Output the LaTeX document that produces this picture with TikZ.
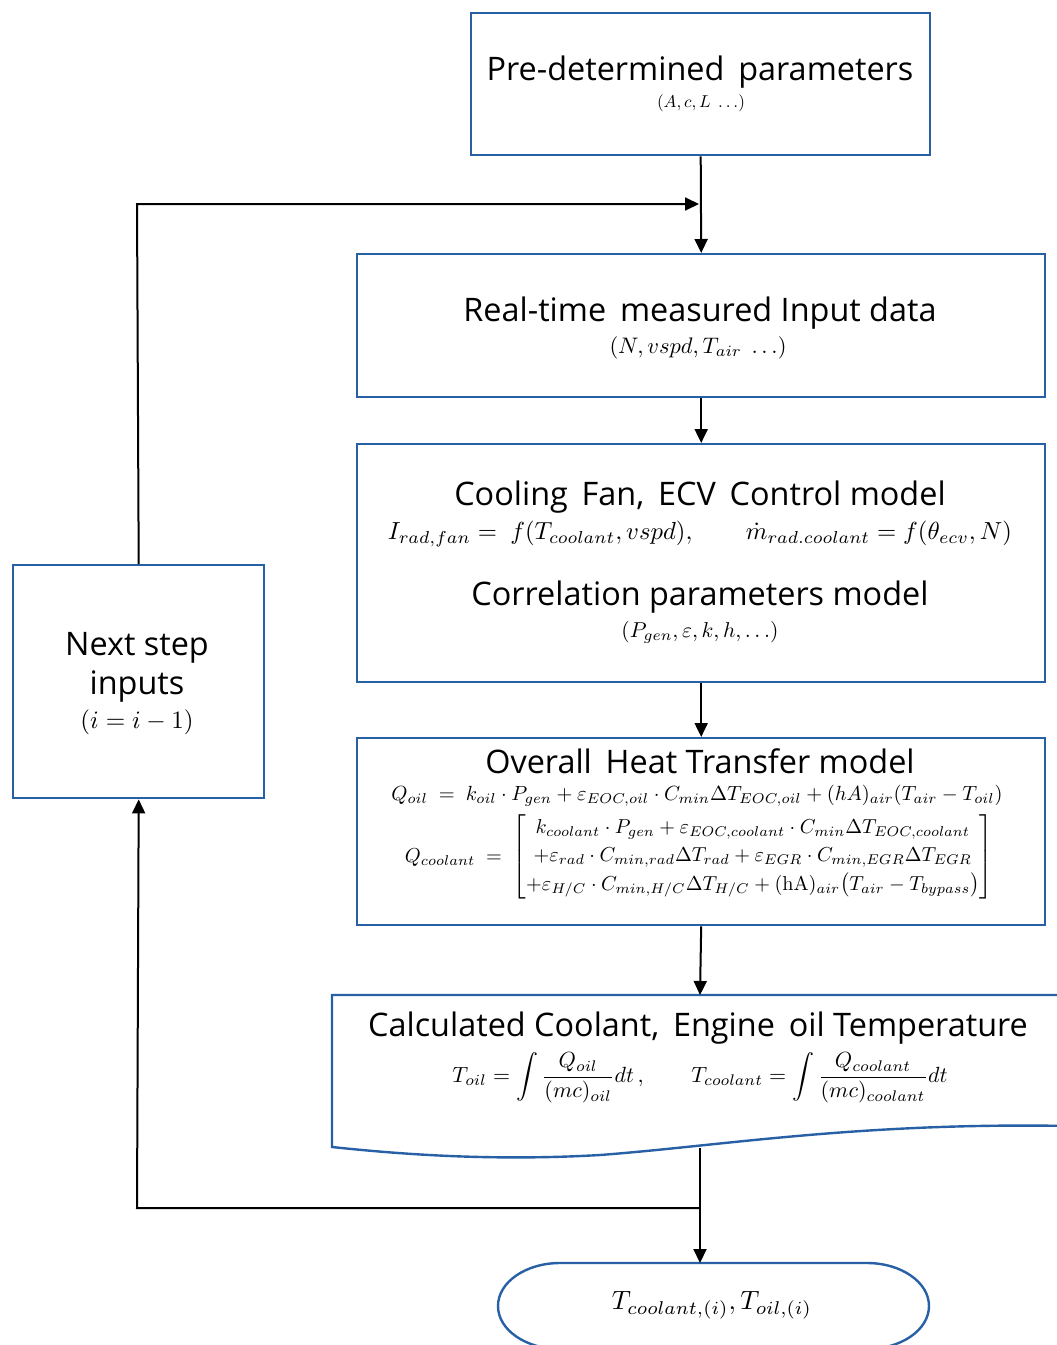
\RequirePackage{fix-cm}
\documentclass[tikz,border=0pt]{standalone}
\usepackage{amsmath}
\usepackage{graphicx}
\usepackage[no-math]{fontspec}
\setmainfont{Open Sans}
\usetikzlibrary{arrows.meta}
\definecolor{bbl}{RGB}{40,96,166}
\tikzset{
  box/.style={draw=bbl, line width=2.4pt, fill=white, inner sep=0pt, anchor=north west},
  conn/.style={line width=2pt, -{Triangle[length=14pt,width=13pt]}},
  ttl/.style={font=\fontsize{32.4}{38}\selectfont, inner sep=0pt},
  mth/.style={inner sep=0pt},
}
\newcommand{\mw}[2]{\resizebox{#1pt}{!}{$#2$}}
\begin{document}
\begin{tikzpicture}[x=1pt,y=-1pt]
\useasboundingbox (0,0) rectangle (1057,1345);
% boxes
\node[box, minimum width=459pt, minimum height=142pt] (pre) at (470,12) {};
\node[box, minimum width=688pt, minimum height=143pt] (rt) at (356,253) {};
\node[box, minimum width=688pt, minimum height=238pt] (cf) at (356,443) {};
\node[box, minimum width=688pt, minimum height=187pt] (oh) at (356,737) {};
\node[box, minimum width=251pt, minimum height=233pt] (ns) at (12,564) {};
% calculated (document shape) and terminal
\coordinate (calcTop) at (700,995);
\coordinate (calcBot) at (700,1148);
\coordinate (termTop) at (700,1263);
\begin{scope}
\clip (0,0) rectangle (1057,1345);
\draw[draw=bbl, line width=2.4pt, fill=white] (332,995) -- (1070,995) -- (1070,1126)
  .. controls (860,1122) and (720,1146) .. (600,1155)
  .. controls (480,1162) and (380,1152) .. (332,1147) -- cycle;
\draw[draw=bbl, line width=2.4pt, fill=white] (560,1263) -- (867,1263)
  .. controls (901,1263) and (929,1282) .. (929,1306)
  .. controls (929,1330) and (901,1349) .. (867,1349) -- (560,1349)
  .. controls (526,1349) and (498,1330) .. (498,1306)
  .. controls (498,1282) and (526,1263) .. (560,1263) -- cycle;
\end{scope}
% texts
\node[ttl] (preT) at (700,72) {Pre-determined\, parameters};
\node[mth] (preS) at (701,103) {\mw{88}{(A, c, L\ \ldots)}};
\node[ttl] (rtT) at (700,313) {Real-time\, measured Input data};
\node[mth] (rtS) at (698,348) {\mw{177}{(N, vspd, T_{air}\ \ldots)}};
\node[ttl] (cfT) at (700,497) {Cooling\, Fan,\, ECV\, Control model};
\node[mth] (cfE) at (700,534) {\mw{624}{I_{rad,fan} =\ f(T_{coolant}, vspd), \qquad \dot m_{rad.coolant} = f(\theta_{ecv}, N)}};
\node[ttl] (cpT) at (700,597) {Correlation parameters model};
\node[mth] (cpS) at (700,632) {\mw{157}{(P_{gen}, \varepsilon, k, h, \ldots)}};
\node[ttl] (ohT) at (700,761) {Overall\, Heat Transfer model};
\node[mth] (ohE1) at (697,796) {\mw{611}{Q_{oil}\ =\ k_{oil}\cdot P_{gen} + \varepsilon_{EOC,oil}\cdot C_{min}\Delta T_{EOC,oil} + (hA)_{air}(T_{air} - T_{oil})}};
\node[mth] (ohE2) at (699,857) {\mw{588}{Q_{coolant}\ =\ \begin{bmatrix} k_{coolant}\cdot P_{gen} + \varepsilon_{EOC,coolant}\cdot C_{min}\Delta T_{EOC,coolant}\\[2pt]
 +\varepsilon_{rad}\cdot C_{min,rad}\Delta T_{rad} + \varepsilon_{EGR}\cdot C_{min,EGR}\Delta T_{EGR}\\[2pt]
 +\varepsilon_{H/C}\cdot C_{min,H/C}\Delta T_{H/C} + (\mathrm{hA})_{air}\bigl(T_{air} - T_{bypass}\bigr)\end{bmatrix}}};
\node[ttl] (caT) at (698,1028) {Calculated Coolant,\, Engine\, oil Temperature};
\node[mth] (caE) at (700,1078) {\mw{495}{\displaystyle T_{oil} = \int\frac{Q_{oil}}{(mc)_{oil}}dt\,, \qquad T_{coolant} = \int\frac{Q_{coolant}}{(mc)_{coolant}}dt}};
\node[mth] (tmT) at (712,1305) {\mw{200}{T_{coolant,(i)}, T_{oil,(i)}}};
\node[ttl] (nsT1) at (137,648) {Next step};
\node[ttl] (nsT2) at (137,686) {inputs};
\node[mth] (nsS) at (137,722) {\mw{113}{(i = i - 1)}};
% connectors
\coordinate (fbTop) at (137,204);
\coordinate (fbJoin) at (700,204);
\coordinate (loopJoin) at (700,1208);
\coordinate (loopLeft) at (137,1208);
\draw[conn] (pre.south) -- (rt.north);
\draw[conn] (ns.north) -- (fbTop) -- ([xshift=-1pt]fbJoin);
\draw[conn] (rt.south) -- (cf.north);
\draw[conn] (cf.south) -- (oh.north);
\draw[conn] (oh.south) -- (calcTop);
\draw[conn] (calcBot) -- (termTop);
\draw[conn] (loopJoin) -- (loopLeft) -- (ns.south);
\end{tikzpicture}
\end{document}
